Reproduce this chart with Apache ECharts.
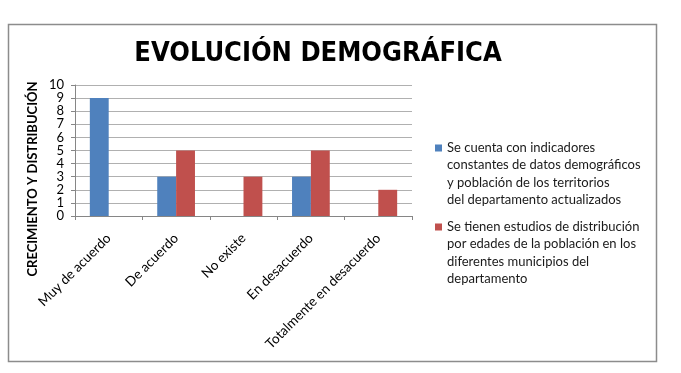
<!DOCTYPE html>
<html><head><meta charset="utf-8">
<script src="https://cdn.jsdelivr.net/npm/echarts@6/dist/echarts.min.js"></script>
<style>html,body{margin:0;padding:0;background:#fff}#c{width:681px;height:373px}</style>
</head><body><div id="c"></div>
<script>
var categories = ['Muy de acuerdo', 'De acuerdo', 'No existe', 'En desacuerdo', 'Totalmente en desacuerdo'];
var seriesNames = [
  'Se cuenta con indicadores\nconstantes de datos demográficos\ny población de los territorios\ndel departamento actualizados',
  'Se tienen estudios de distribución\npor edades de la población en los\ndiferentes municipios del\ndepartamento'
];
var indicadores = [9, 3, 0, 3, 0];
var estudios = [0, 5, 3, 5, 2];
var yTicks = [0, 10, 1];

var FONT = 'Lato, "Open Sans", sans-serif';
var iconPath = 'path://M0,0L0.01,0M0,5.5L7,5.5L7,12.5L0,12.5ZM0,70L0.01,70';
var chart = echarts.init(document.getElementById('c'), null, {renderer: 'canvas'});
chart.setOption({
  animation: false,
  backgroundColor: '#fff',
  title: {
    text: 'EVOLUCIÓN DEMOGRÁFICA',
    left: 318, top: 40, textAlign: 'center', padding: 0,
    textStyle: {fontFamily: '"DejaVu Sans Condensed", "DejaVu Sans", sans-serif', fontWeight: 'bold', fontSize: 27, color: '#000'}
  },
  graphic: [
    {type: 'rect', shape: {x: 8.5, y: 24.5, width: 648, height: 337}, style: {fill: 'none', stroke: '#8c8c8c', lineWidth: 1.5}, z: -1},
    {type: 'text', x: 33, y: 179, rotation: Math.PI / 2,
     style: {text: 'CRECIMIENTO Y DISTRIBUCIÓN', align: 'center', verticalAlign: 'middle',
             font: 'bold 13px ' + FONT, fill: '#000'}}
  ],
  legend: {
    orient: 'vertical', left: 435, top: 139, itemGap: 9, padding: 0,
    itemWidth: 7, itemHeight: 70, icon: iconPath,
    data: seriesNames,
    textStyle: {fontFamily: FONT, fontSize: 13, lineHeight: 17.5, color: '#1a1a1a'}
  },
  grid: {left: 75, right: 269, top: 85, bottom: 157, containLabel: false},
  xAxis: {
    type: 'category', data: categories,
    axisLine: {lineStyle: {color: '#868686'}},
    axisTick: {show: true, length: 4, lineStyle: {color: '#868686'}},
    axisLabel: {rotate: 45, interval: 0, margin: 20, fontFamily: FONT, fontSize: 13.5, color: '#000'}
  },
  yAxis: {
    type: 'value', min: yTicks[0], max: yTicks[1], interval: yTicks[2],
    axisLine: {show: true, lineStyle: {color: '#868686'}},
    axisTick: {show: true, length: 4, lineStyle: {color: '#868686'}},
    splitLine: {lineStyle: {color: '#b0b0b0'}},
    axisLabel: {margin: 11, fontFamily: FONT, fontSize: 13, color: '#000',
                showMinLabel: true, showMaxLabel: true}
  },
  series: [
    {name: seriesNames[0], type: 'bar', data: indicadores, barGap: '0%', barCategoryGap: '44%',
     itemStyle: {color: '#4F81BD'}},
    {name: seriesNames[1], type: 'bar', data: estudios, barGap: '0%', barCategoryGap: '44%',
     itemStyle: {color: '#C0504D'}}
  ]
});
</script></body></html>
